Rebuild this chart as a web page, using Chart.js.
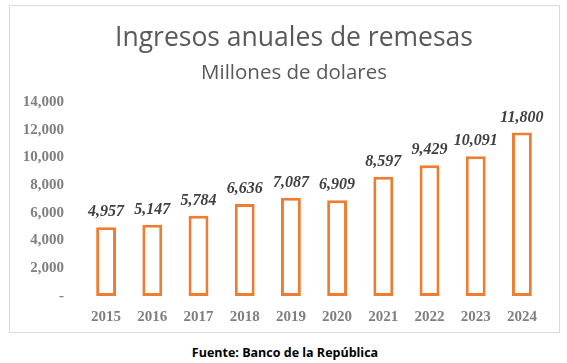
<!DOCTYPE html>
<html>
<head>
<meta charset="utf-8">
<script src="https://cdn.jsdelivr.net/npm/chart.js@4"></script>
<style>
  html, body { margin: 0; padding: 0; background: #fff; overflow: hidden; }
  #box { position: absolute; left: 9px; top: 5px; width: 549px; height: 326px; border: 1px solid #d9d9d9; }
  #footer { position: absolute; left: 0; width: 570px; top: 344px; text-align: center;
    font: bold 12.5px "Open Sans", sans-serif; color: #000; }
</style>
</head>
<body>
<div id="box"><canvas id="chart" width="549" height="326"></canvas></div>
<div id="footer">Fuente: Banco de la República</div>
<script>
const years = ['2015', '2016', '2017', '2018', '2019', '2020', '2021', '2022', '2023', '2024'];
const remesas = [4957, 5147, 5784, 6636, 7087, 6909, 8597, 9429, 10091, 11800];
const yTicks = [0, 2000, 4000, 6000, 8000, 10000, 12000, 14000];

const titleText = 'Ingresos anuales de remesas';
const subtitleText = 'Millones de dolares';

function fmt(v) {
  return v === 0 ? '-' : v.toLocaleString('en-US');
}

const titlesPlugin = {
  id: 'titles',
  afterDraw(chart) {
    const ctx = chart.ctx;
    ctx.save();
    ctx.fillStyle = '#595959';
    ctx.textAlign = 'center';
    ctx.textBaseline = 'middle';
    ctx.font = '26.5px "Open Sans", sans-serif';
    ctx.fillText(titleText, 284, 32);
    ctx.font = '20.5px "Open Sans", sans-serif';
    ctx.fillText(subtitleText, 284, 67);
    ctx.restore();
  }
};

const valueLabels = {
  id: 'valueLabels',
  afterDatasetsDraw(chart) {
    const ctx = chart.ctx;
    const meta = chart.getDatasetMeta(0);
    ctx.save();
    ctx.fillStyle = '#404040';
    ctx.textAlign = 'center';
    ctx.textBaseline = 'middle';
    ctx.font = 'italic bold 16px "Liberation Serif", serif';
    meta.data.forEach((bar, i) => {
      ctx.fillText(fmt(remesas[i]), bar.x, bar.y - 15);
    });
    ctx.restore();
  }
};

new Chart(document.getElementById('chart'), {
  type: 'bar',
  data: {
    labels: years,
    datasets: [{
      data: remesas,
      backgroundColor: '#ffffff',
      borderColor: '#ed7d31',
      borderWidth: 3,
      borderSkipped: false,
      barPercentage: 0.43,
      categoryPercentage: 1
    }]
  },
  options: {
    responsive: false,
    animation: false,
    layout: { padding: { top: 96, right: 14, left: 0, bottom: 0 } },
    plugins: {
      legend: { display: false },
      tooltip: { enabled: false },
      title: { display: false }
    },
    scales: {
      x: {
        grid: { display: false, drawTicks: false },
        border: { display: false },
        ticks: {
          color: '#7f7f7f',
          padding: 12,
          font: { family: '"Liberation Serif", serif', weight: 'bold', size: 15 }
        },
        afterFit(scale) { scale.height = 36; }
      },
      y: {
        min: 0,
        max: 14000,
        grid: { display: false, drawTicks: false },
        border: { display: false },
        afterBuildTicks(scale) { scale.ticks = yTicks.map(v => ({ value: v })); },
        ticks: {
          color: '#7f7f7f',
          padding: 19,
          font: { family: '"Liberation Serif", serif', weight: 'bold', size: 15 },
          callback: v => fmt(v)
        },
        afterFit(scale) { scale.width = 73; }
      }
    }
  },
  plugins: [titlesPlugin, valueLabels]
});
</script>
</body>
</html>
